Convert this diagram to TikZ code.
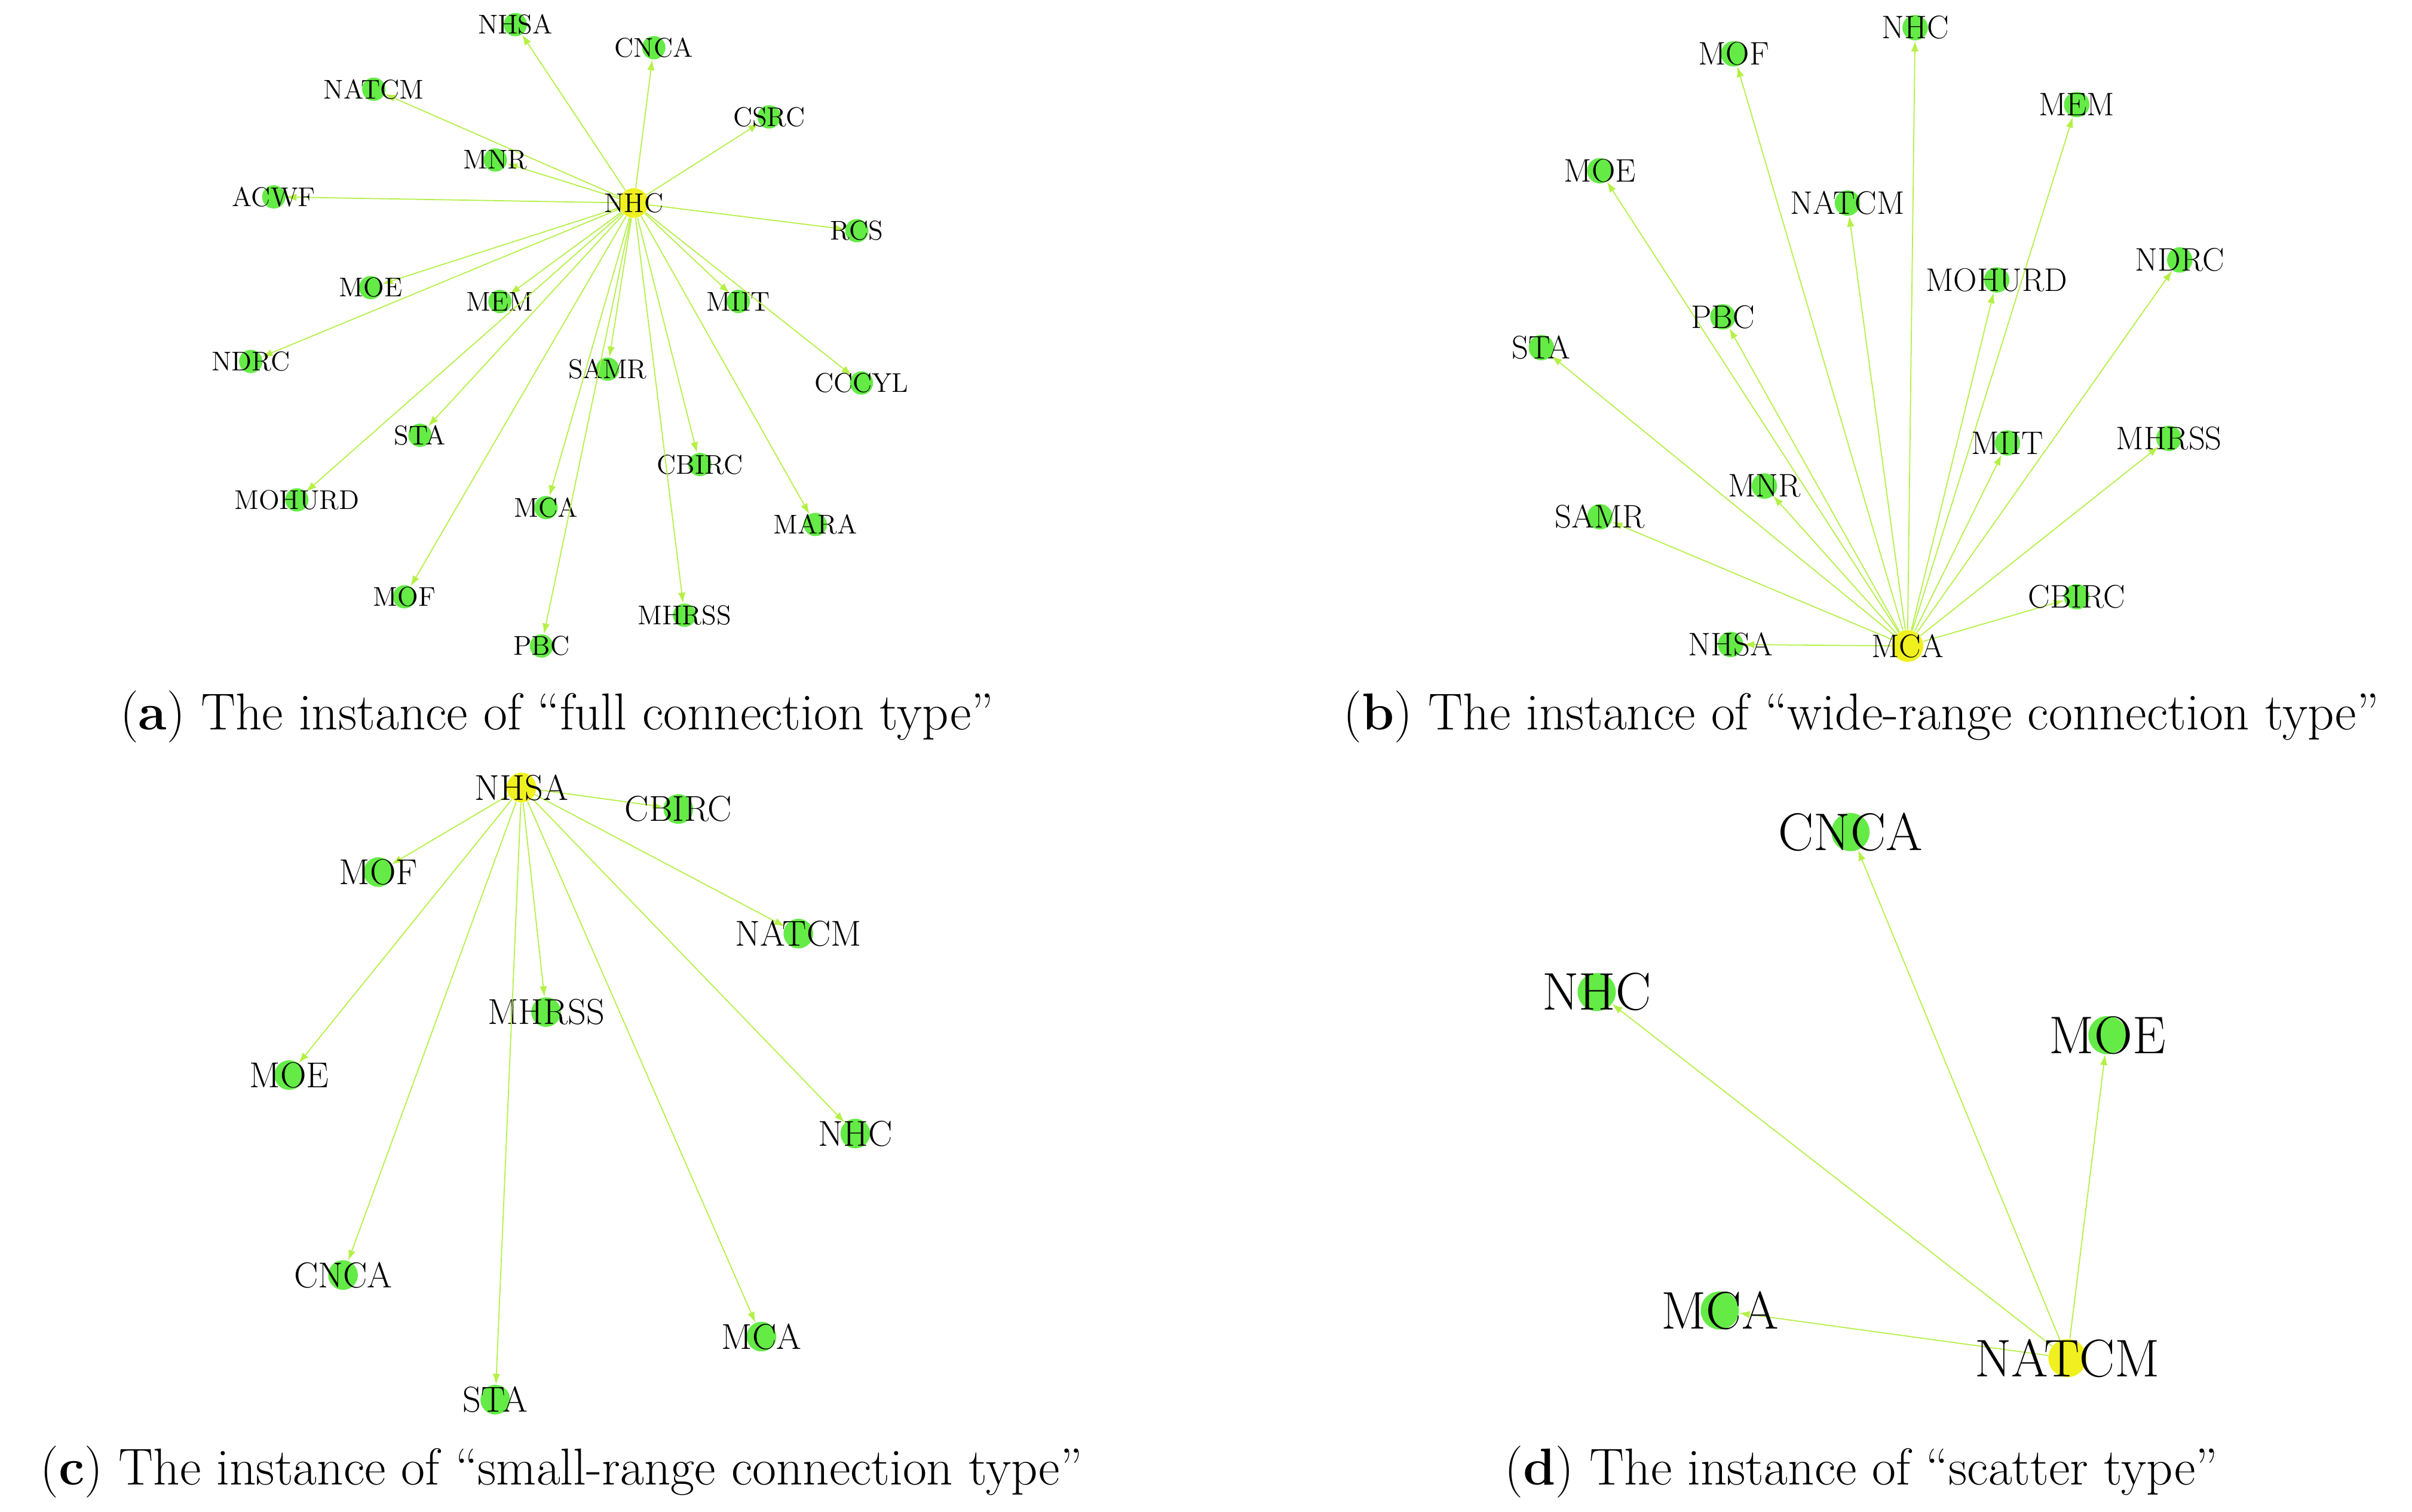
\documentclass[tikz,border=0pt]{standalone}
\usetikzlibrary{arrows.meta}
\definecolor{nodeg}{RGB}{100,235,70}
\definecolor{nodey}{RGB}{240,240,30}
\definecolor{edgec}{RGB}{180,240,70}
\begin{document}
\begin{tikzpicture}[x=0.02551cm,y=-0.02551cm,
  gn/.style={circle,fill=nodeg,inner sep=0pt,minimum size=#1},
  yn/.style={circle,fill=nodey,inner sep=0pt,minimum size=#1},
  lab/.style={inner sep=0pt,font=#1},
  edge/.style={draw=edgec,line width=0.5pt,-{Latex[length=5pt,width=3.5pt]}},
  captxt/.style={font=\fontsize{24.5}{28}\selectfont}]
\useasboundingbox (0,0) rectangle (1568,983);
% (a)
\node[yn=14pt] (aNHC) at (412,132) {};
\foreach \n/\x/\y in {NHSA/335/16,CNCA/425/31,NATCM/243/58,CSRC/500/76,MNR/322/104,ACWF/178/128,RCS/557/150,MOE/241/187,MEM/325/196,MIIT/480/196,NDRC/163/235,SAMR/395/240,CCCYL/560/249,STA/273/283,CBIRC/455/302,MOHURD/193/325,MCA/355/330,MARA/530/341,MOF/263/388,PBC/352/420,MHRSS/445/400}{
  \node[gn=11pt] (a\n) at (\x,\y) {};
  \draw[edge] (aNHC) -- (a\n);
  \node[lab=\fontsize{12.8}{14}\selectfont] (a\n l) at (\x,\y) {\n};}
\node[lab=\fontsize{12.8}{14}\selectfont] (aNHCl) at (412,132) {NHC};
% (b)
\node[yn=15pt] (bMCA) at (1240,420) {};
\foreach \n/\x/\y in {NHC/1245/18,MOF/1127/35,MEM/1350/68,MOE/1040/111,NATCM/1201/132,MOHURD/1298/182,NDRC/1417/169,PBC/1120/206,STA/1002/226,MIIT/1305/288,MHRSS/1410/285,MNR/1147/316,SAMR/1040/336,CBIRC/1350/388,NHSA/1125/419}{
  \node[gn=12pt] (b\n) at (\x,\y) {};
  \draw[edge] (bMCA) -- (b\n);
  \node[lab=\fontsize{15.4}{17}\selectfont] (b\n l) at (\x,\y) {\n};}
\node[lab=\fontsize{15.4}{17}\selectfont] (bMCAl) at (1240,420) {MCA};
% (c)
\node[yn=14pt] (cNHSA) at (339,512) {};
\foreach \n/\x/\y in {CBIRC/441/526,MOF/246/567,NATCM/519/607,MHRSS/355/658,MOE/188/699,NHC/556/737,CNCA/223/829,MCA/495/869,STA/322/910}{
  \node[gn=14pt] (c\n) at (\x,\y) {};
  \draw[edge] (cNHSA) -- (c\n);
  \node[lab=\fontsize{17}{19}\selectfont] (c\n l) at (\x,\y) {\n};}
\node[lab=\fontsize{17}{19}\selectfont] (cNHSAl) at (339,512) {NHSA};
% (d)
\node[yn=18pt] (dNATCM) at (1344,883) {};
\foreach \n/\x/\y in {CNCA/1203/541,NHC/1038/645,MOE/1370/673,MCA/1118/852}{
  \node[gn=18pt] (d\n) at (\x,\y) {};
  \draw[edge] (dNATCM) -- (d\n);
  \node[lab=\fontsize{25}{28}\selectfont] (d\n l) at (\x,\y) {\n};}
\node[lab=\fontsize{25}{28}\selectfont] (dNATCMl) at (1344,883) {NATCM};
% captions
\node[captxt] (capa) at (362,466) {(\textbf{a}) The instance of ``full connection type''};
\node[captxt] (capb) at (1210,466) {(\textbf{b}) The instance of ``wide-range connection type''};
\node[captxt] (capc) at (365,957) {(\textbf{c}) The instance of ``small-range connection type''};
\node[captxt] (capd) at (1210,957) {(\textbf{d}) The instance of ``scatter type''};
\end{tikzpicture}
\end{document}
